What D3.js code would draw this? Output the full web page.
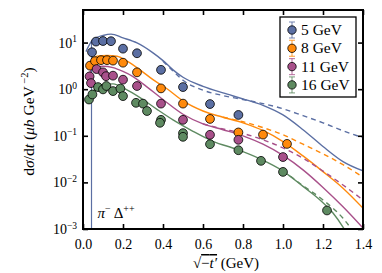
<!DOCTYPE html>
<html>
<head>
<meta charset="utf-8">
<script src="https://cdn.jsdelivr.net/npm/d3@7"></script>
<style>
  body { margin: 0; background: #fff; }
  text { font-family: "Liberation Serif", "DejaVu Serif", serif; fill: #000; }
</style>
</head>
<body>
<svg id="chart" width="382" height="273"></svg>
<script>
//Series names and colours
const energies = ["5 GeV", "8 GeV", "11 GeV", "16 GeV"];
const colors = ["#5b6fa3", "#ff8a0c", "#a8508a", "#5e8a61"];

//Data points [sqrt(-t'), dsigma/dt]
const points5 = [[0.045,6.2],[0.065,10.5],[0.10,10.8],[0.14,10.7],[0.20,7.4],[0.27,5.9],[0.39,2.6],[0.50,1.11],[0.635,0.48],[0.777,0.28]];
const points8 = [[0.035,3.2],[0.06,4.0],[0.09,4.2],[0.12,4.2],[0.15,4.1],[0.20,3.7],[0.27,2.3],[0.39,1.04],[0.50,0.49],[0.635,0.23],[0.777,0.118],[0.90,0.106],[1.02,0.067]];
const points11 = [[0.033,1.88],[0.04,1.35],[0.068,2.7],[0.10,2.3],[0.115,1.9],[0.15,1.95],[0.20,1.6],[0.27,1.17],[0.39,0.49],[0.50,0.22],[0.635,0.105],[0.777,0.082],[1.0,0.035]];
const points16 = [[0.03,0.60],[0.047,0.77],[0.075,1.11],[0.10,0.99],[0.117,1.17],[0.15,0.91],[0.187,1.03],[0.20,0.71],[0.265,0.51],[0.30,0.49],[0.32,0.34],[0.39,0.22],[0.385,0.19],[0.50,0.114],[0.50,0.095],[0.635,0.066],[0.777,0.049],[0.89,0.029],[1.0,0.0168],[1.22,0.0025]];

//Model curves (solid and dashed)
const model5 = [[0.015,6.4],[0.05,11.6],[0.10,14.2],[0.14,15.2],[0.20,12.6],[0.27,9.8],[0.35,6.0],[0.40,4.1],[0.45,2.6],[0.50,1.8],[0.60,1.15],[0.70,0.83],[0.80,0.62],[0.90,0.45],[1.0,0.28],[1.1,0.135],[1.2,0.059],[1.3,0.028],[1.4,0.0177]];
const edge5 = [[0.0425,0.0001],[0.0425,11]];
const model5dash = [[0.40,4.0],[0.45,2.45],[0.50,1.55],[0.60,0.95],[0.70,0.73],[0.80,0.60],[0.90,0.49],[1.0,0.38],[1.1,0.27],[1.2,0.19],[1.3,0.128],[1.4,0.091]];
const model8 = [[0.02,2.9],[0.07,5.1],[0.12,5.3],[0.17,5.1],[0.22,4.0],[0.285,2.6],[0.35,1.6],[0.42,1.02],[0.50,0.56],[0.60,0.34],[0.70,0.25],[0.80,0.19],[0.90,0.13],[1.0,0.075],[1.1,0.037],[1.2,0.017],[1.3,0.0075],[1.4,0.0028]];
const model8dash = [[0.70,0.25],[0.80,0.2],[0.90,0.15],[1.0,0.105],[1.1,0.066],[1.2,0.041],[1.3,0.024],[1.4,0.013]];
const model11 = [[0.02,1.77],[0.05,2.8],[0.10,3.1],[0.15,2.9],[0.20,2.4],[0.25,1.86],[0.30,1.3],[0.40,0.6],[0.50,0.29],[0.60,0.18],[0.70,0.135],[0.80,0.1],[0.90,0.066],[1.0,0.038],[1.1,0.0186],[1.2,0.0078],[1.3,0.003],[1.4,0.00105]];
const model11dash = [[0.60,0.18],[0.70,0.14],[0.80,0.112],[0.90,0.082],[1.0,0.055],[1.1,0.033],[1.2,0.0175],[1.3,0.0088],[1.4,0.0042]];
const model16 = [[0.025,0.66],[0.10,1.27],[0.15,1.3],[0.215,0.99],[0.285,0.66],[0.37,0.37],[0.45,0.22],[0.55,0.125],[0.65,0.076],[0.77,0.051],[0.885,0.032],[1.0,0.0175],[1.1,0.0082],[1.185,0.0042],[1.25,0.0022],[1.3,0.0011],[1.32,0.0008]];
const model16dash = [[1.0,0.018],[1.1,0.0085],[1.2,0.0042],[1.3,0.0017],[1.35,0.0009]];

//Tick labels
const xTicks = [0, 0.2, 0.4, 0.6, 0.8, 1.0, 1.2, 1.4];
const yTicks = [1e-3, 1e-2, 1e-1, 1, 10];
const yExps = ["−3", "−2", "−1", "0", "1"];

//Measuring (in px)
const margin = {left: 83, top: 10, right: 19, bottom: 44};
const width = 382 - margin.left - margin.right;
const height = 273 - margin.top - margin.bottom;

const svg = d3.select("#chart");

let xScale = d3.scaleLinear().domain([0, 1.4]).range([0, width]);
let yScale = d3.scaleLog().domain([1e-3, 50]).range([height, 0]);

const plot = svg.append("g").attr("transform", `translate(${margin.left},${margin.top})`);

plot.append("clipPath").attr("id", "clip")
  .append("rect").attr("width", width).attr("height", height);

const lineGen = d3.line()
  .x(d => xScale(d[0]))
  .y(d => yScale(d[1]))
  .curve(d3.curveMonotoneX);

const curves = plot.append("g").attr("clip-path", "url(#clip)");

//Solid and dashed model lines
const models = [[model5, model5dash], [model8, model8dash], [model11, model11dash], [model16, model16dash]];
models.forEach((pair, i) => {
  curves.append("path").datum(pair[1])
    .attr("d", lineGen).attr("fill", "none")
    .attr("stroke", colors[i]).attr("stroke-width", 1.4)
    .attr("stroke-dasharray", "5,4");
  curves.append("path").datum(pair[0])
    .attr("d", lineGen).attr("fill", "none")
    .attr("stroke", colors[i]).attr("stroke-width", 1.4);
});
curves.append("path").datum(edge5)
  .attr("d", d3.line().x(d => xScale(d[0])).y(d => yScale(d[1])))
  .attr("fill", "none").attr("stroke", colors[0]).attr("stroke-width", 1.2);

//Data markers
const pointSets = [points5, points8, points11, points16];
pointSets.forEach((set, i) => {
  plot.append("g").selectAll("circle")
    .data(set).enter().append("circle")
    .attr("cx", d => xScale(d[0]))
    .attr("cy", d => yScale(d[1]))
    .attr("r", 4.4)
    .attr("fill", colors[i])
    .attr("stroke", "#000").attr("stroke-width", 0.8);
});

//Axes with inward ticks
const xAxis = plot.append("g").attr("transform", `translate(0,${height})`)
  .call(d3.axisBottom(xScale).tickValues(xTicks).tickSize(-5).tickPadding(10).tickFormat(d3.format(".1f")));
const xTop = plot.append("g")
  .call(d3.axisTop(xScale).tickValues(xTicks).tickSize(-5).tickFormat(""));
const yAxis = plot.append("g")
  .call(d3.axisLeft(yScale).tickValues(yTicks).tickSize(-5).tickFormat(""));
const yRight = plot.append("g").attr("transform", `translate(${width},0)`)
  .call(d3.axisRight(yScale).tickValues(yTicks).tickSize(-5).tickFormat(""));

[xAxis, xTop, yAxis, yRight].forEach(a => {
  a.select(".domain").remove();
  a.selectAll(".tick line").attr("stroke", "#000").attr("stroke-width", 1.6);
});
xAxis.selectAll(".tick text").attr("font-size", 14)
  .attr("font-family", "Liberation Serif, serif");

//Y tick labels as 10^n
yTicks.forEach((t, i) => {
  const label = plot.append("text")
    .attr("x", -6).attr("y", yScale(t) + 5)
    .attr("text-anchor", "end").attr("font-size", 14);
  label.append("tspan").text("10");
  label.append("tspan").attr("dy", -5.5).attr("font-size", 9.5).text(yExps[i]);
});

//Frame
plot.append("rect").attr("width", width).attr("height", height)
  .attr("fill", "none").attr("stroke", "#000").attr("stroke-width", 2);

//Annotation
const ann = plot.append("text").attr("x", xScale(0.073)).attr("y", yScale(0.0017))
  .attr("font-size", 15);
ann.append("tspan").attr("font-style", "italic").text("π");
ann.append("tspan").attr("dy", -6).attr("font-size", 10).text("−");
ann.append("tspan").attr("dy", 6).text(" Δ");
ann.append("tspan").attr("dy", -6).attr("font-size", 10).text("++");

//Axis titles
const xTitle = svg.append("text").attr("x", margin.left + width / 2 + 3).attr("y", 268)
  .attr("text-anchor", "middle").attr("font-size", 15);
xTitle.append("tspan").text("√");
xTitle.append("tspan").style("text-decoration", "overline").text("−");
xTitle.append("tspan").style("text-decoration", "overline").attr("font-style", "italic").text("t′");
xTitle.append("tspan").text(" (GeV)");

const yTitle = svg.append("text")
  .attr("transform", `translate(34,${margin.top + height / 2 + 2}) rotate(-90)`)
  .attr("text-anchor", "middle").attr("font-size", 15.5);
yTitle.append("tspan").text("d");
yTitle.append("tspan").attr("font-style", "italic").text("σ");
yTitle.append("tspan").text("/d");
yTitle.append("tspan").attr("font-style", "italic").text("t");
yTitle.append("tspan").text(" (");
yTitle.append("tspan").attr("font-style", "italic").text("μb");
yTitle.append("tspan").text(" GeV");
yTitle.append("tspan").attr("dy", -6).attr("font-size", 10.5).text(" −2");
yTitle.append("tspan").attr("dy", 6).text(")");

//Legend
const legend = svg.append("g").attr("transform", "translate(280,17)");
legend.append("rect").attr("width", 76).attr("height", 80)
  .attr("fill", "#fff").attr("stroke", "#000").attr("stroke-width", 1.3);
energies.forEach((name, i) => {
  const row = legend.append("g").attr("transform", `translate(12,${13 + i * 18.3})`);
  row.append("line").attr("y1", -8).attr("y2", 8)
    .attr("stroke", colors[i]).attr("stroke-opacity", 0.7).attr("stroke-width", 1.2);
  row.append("line").attr("x1", -3).attr("x2", 3).attr("y1", -8).attr("y2", -8)
    .attr("stroke", colors[i]).attr("stroke-opacity", 0.7).attr("stroke-width", 1.2);
  row.append("line").attr("x1", -3).attr("x2", 3).attr("y1", 8).attr("y2", 8)
    .attr("stroke", colors[i]).attr("stroke-opacity", 0.7).attr("stroke-width", 1.2);
  row.append("circle").attr("r", 4.2)
    .attr("fill", colors[i]).attr("stroke", "#000").attr("stroke-width", 0.8);
  row.append("text").attr("x", 9).attr("y", 5)
    .attr("font-size", 15.5).text(name);
});
</script>
</body>
</html>
